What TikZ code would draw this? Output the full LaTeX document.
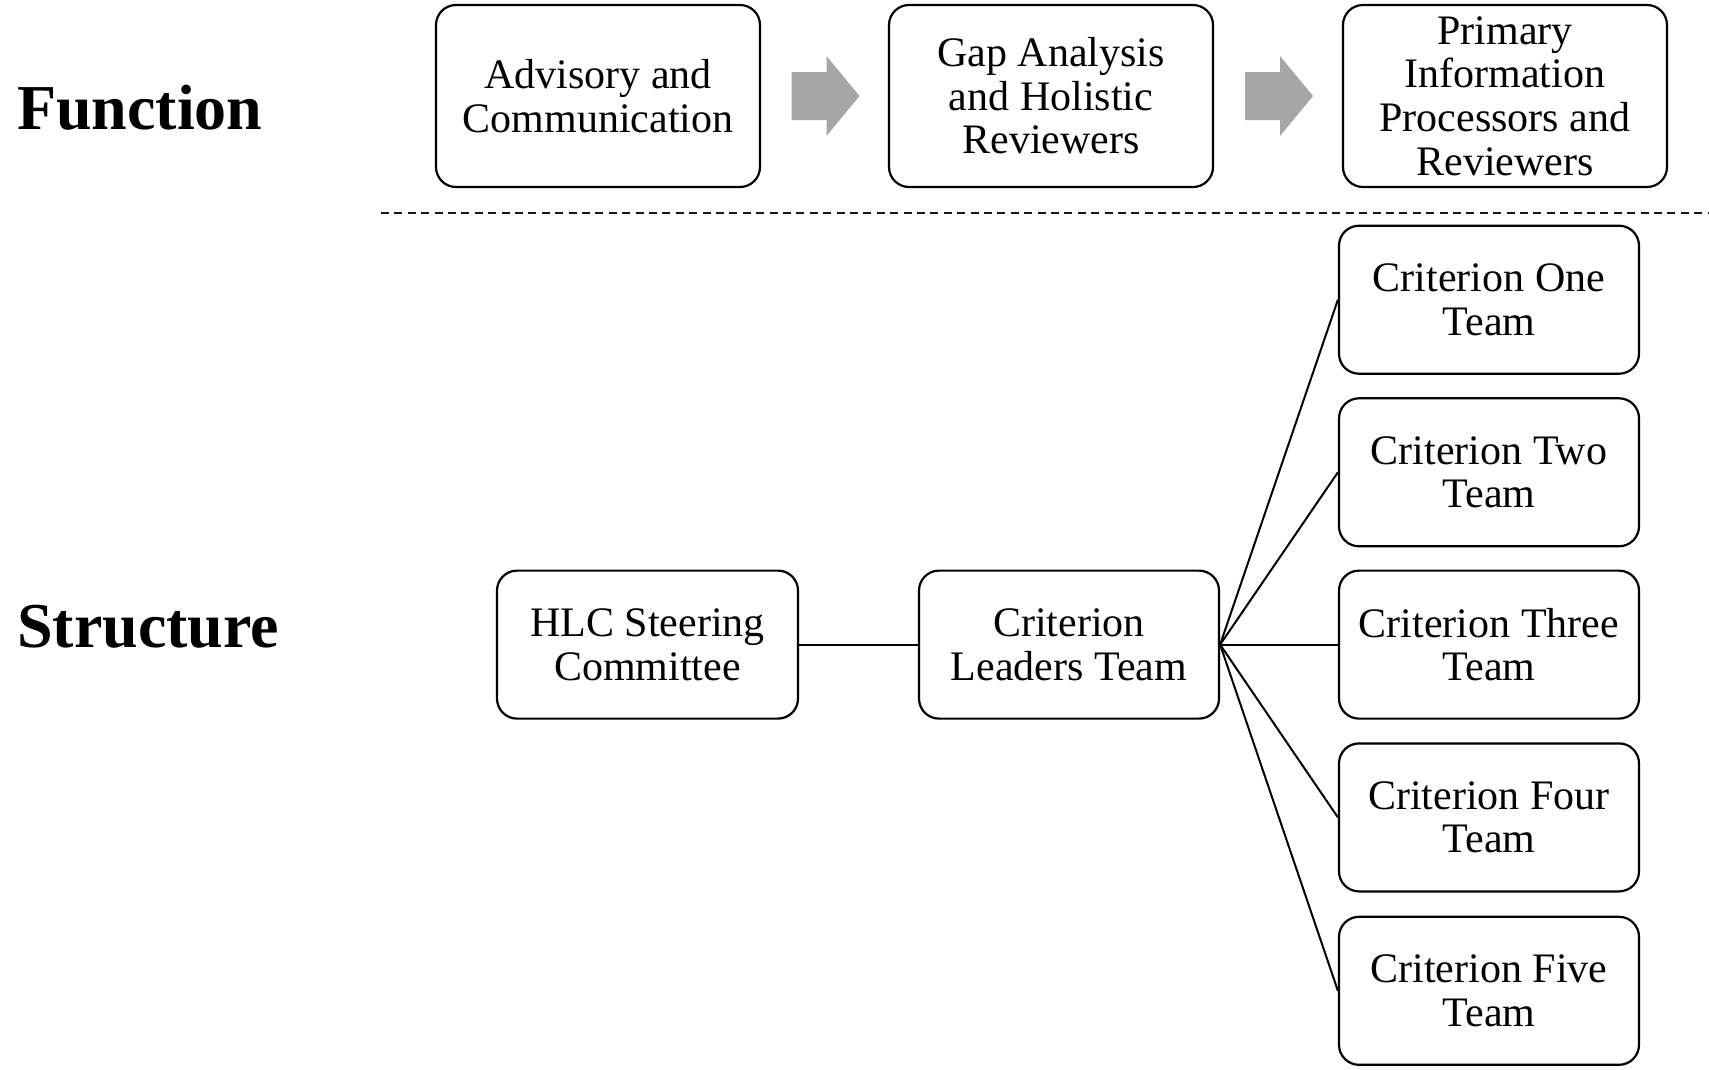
\documentclass[tikz,border=0pt]{standalone}
\usepackage{fontspec}
\setmainfont{Liberation Serif}
\definecolor{arrowgray}{RGB}{166,166,166}
\begin{document}
\begin{tikzpicture}[x=1pt,y=-1pt,
  box/.style={draw=black, line width=2.2pt, rounded corners=20pt, fill=white,
    align=center, inner sep=0pt, font=\fontsize{42}{43.6}\selectfont},
  topbox/.style={box, minimum width=324pt, minimum height=182pt},
  teambox/.style={box, minimum width=300pt, minimum height=148pt},
  link/.style={line width=2pt, black},
  flow/.style={fill=arrowgray},
  divider/.style={line width=1.8pt, black!90, dash pattern=on 8pt off 5.4pt},
  heading/.style={font=\fontsize{64}{70}\selectfont\bfseries, anchor=base west, inner sep=0pt}]
\useasboundingbox (0,0) rectangle (1709,1069);

% Row labels
\node[heading] (function) at (17,129) {Function};
\node[heading] (structure) at (17,647) {Structure};

% Function row
\node[topbox] (f1) at (598,96) {Advisory and\\Communication};
\node[topbox] (f2) at (1051,96) {Gap Analysis\\and Holistic\\Reviewers};
\node[topbox] (f3) at (1505,96) {Primary\\Information\\Processors and\\Reviewers};

% Block arrows between function boxes
\path (f1.east) -- (f2.west) coordinate[midway] (m1);
\path (f2.east) -- (f3.west) coordinate[midway] (m2);
\foreach \m in {m1,m2}{
  \fill[flow] ([shift={(-33,-24)}]\m) -- ([shift={(2,-24)}]\m) -- ([shift={(2,-40)}]\m)
    -- ([shift={(35,0)}]\m) -- ([shift={(2,40)}]\m) -- ([shift={(2,24)}]\m)
    -- ([shift={(-33,24)}]\m) -- cycle;
}

% Divider
\coordinate (dl) at (381,212.7);
\coordinate (dr) at (1709,212.7);
\draw[divider] (dl) -- (dr);

% Structure
\node[teambox, minimum width=301pt] (hlc) at (647.5,644.6) {HLC Steering\\Committee};
\node[teambox] (clt) at (1069,644.6) {Criterion\\Leaders Team};
\node[teambox] (c1) at (1489,299.7) {Criterion One\\Team};
\node[teambox] (c2) at (1489,472.3) {Criterion Two\\Team};
\node[teambox] (c3) at (1489,644.6) {Criterion Three\\Team};
\node[teambox] (c4) at (1489,817.4) {Criterion Four\\Team};
\node[teambox] (c5) at (1489,990.8) {Criterion Five\\Team};

\draw[link] (hlc.east) -- (clt.west);
\foreach \c in {c1,c2,c3,c4,c5}{
  \draw[link] (clt.east) -- (\c.west);
}
\end{tikzpicture}
\end{document}
